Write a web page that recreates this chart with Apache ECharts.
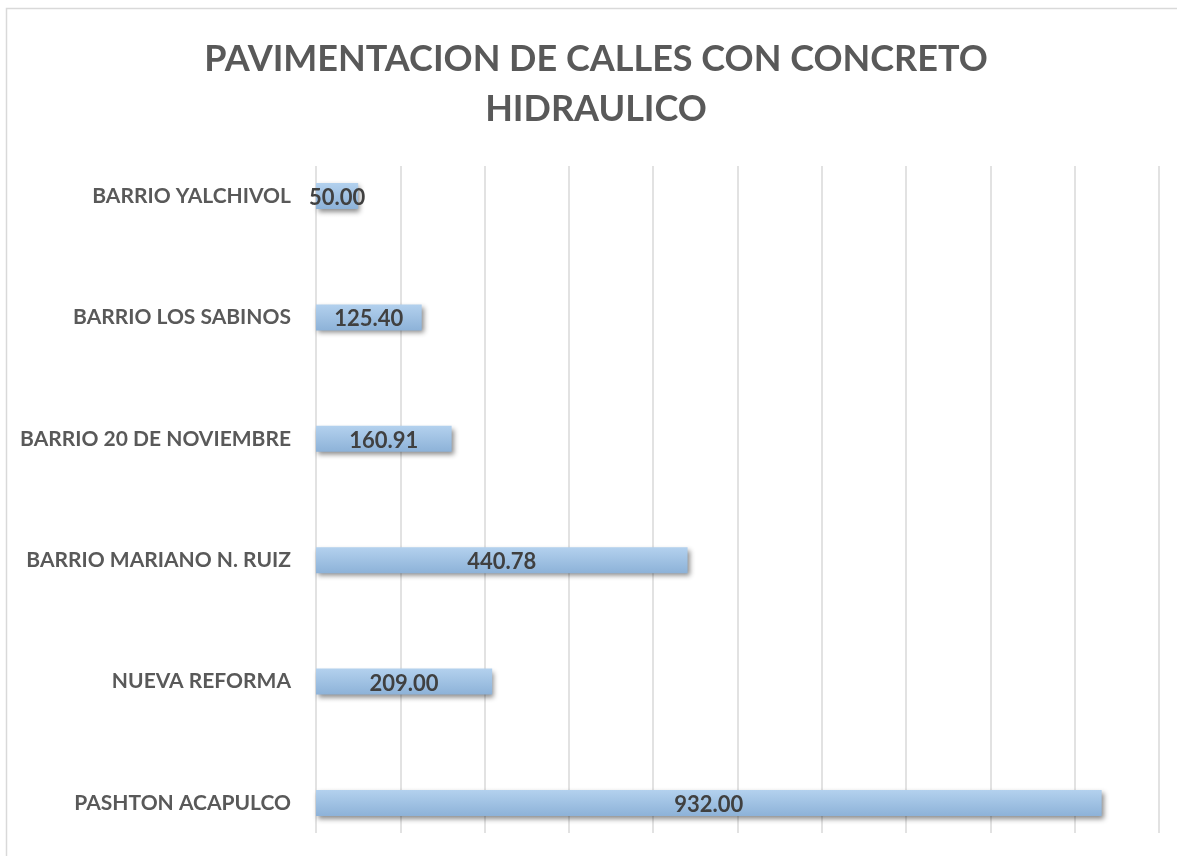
<!DOCTYPE html>
<html style="height: 100%">
<head>
<meta charset="utf-8">
</head>
<body style="height: 100%; margin: 0; background: #fff">
<div id="container" style="width: 1177px; height: 856px"></div>
<script type="text/javascript" src="https://cdn.jsdelivr.net/npm/echarts@6/dist/echarts.min.js"></script>
<script type="text/javascript">
var categories = ['BARRIO YALCHIVOL', 'BARRIO LOS SABINOS', 'BARRIO 20 DE NOVIEMBRE',
    'BARRIO MARIANO N. RUIZ', 'NUEVA REFORMA', 'PASHTON ACAPULCO'];
var values = [50.00, 125.40, 160.91, 440.78, 209.00, 932.00];
var axisMax = 1000;
var axisStep = 100;

var chart = echarts.init(document.getElementById('container'));
var font = 'Lato';

var option = {
    backgroundColor: '#fff',
    title: {
        text: 'PAVIMENTACION DE CALLES CON CONCRETO\nHIDRAULICO',
        left: 591,
        textAlign: 'center',
        top: 29,
        textStyle: {
            fontFamily: font,
            fontSize: 36,
            fontWeight: 'bold',
            color: '#595959',
            lineHeight: 50
        }
    },
    graphic: [{
        type: 'rect',
        shape: { x: 6.5, y: 8.5, width: 1300, height: 1000 },
        style: { fill: 'none', stroke: '#d9d9d9', lineWidth: 1.5 },
        silent: true
    }],
    grid: [
        // grid for the gridlines
        { left: 316, right: 18, top: 166, bottom: 23 },
        // grid for the bars
        { left: 316, right: 18, top: 196, bottom: 53 }
    ],
    xAxis: [{
        gridIndex: 0,
        type: 'value',
        min: 0,
        max: axisMax,
        interval: axisStep,
        axisLine: { show: false },
        axisTick: { show: false },
        axisLabel: { show: false },
        splitLine: { show: true, lineStyle: { color: '#d9d9d9', width: 1.5 } }
    }, {
        gridIndex: 1,
        type: 'value',
        min: 0,
        max: axisMax,
        interval: axisStep,
        show: false,
        splitLine: { show: false }
    }],
    yAxis: [{
        gridIndex: 0,
        type: 'category',
        data: categories,
        show: false
    }, {
        gridIndex: 1,
        type: 'category',
        data: categories,
        inverse: true,
        boundaryGap: false,
        axisLine: { show: false },
        axisTick: { show: false },
        splitLine: { show: false },
        axisLabel: {
            margin: 25,
            fontFamily: font,
            fontSize: 21,
            fontWeight: 'bold',
            color: '#595959'
        }
    }],
    series: [{
        type: 'bar',
        xAxisIndex: 1,
        yAxisIndex: 1,
        data: values,
        barWidth: 26,
        itemStyle: {
            color: new echarts.graphic.LinearGradient(0, 0, 0, 1, [
                { offset: 0, color: '#b3d1ee' },
                { offset: 1, color: '#8db2d8' }
            ]),
            shadowColor: 'rgba(0,0,0,0.45)',
            shadowBlur: 5,
            shadowOffsetX: 2,
            shadowOffsetY: 3
        },
        label: {
            show: true,
            position: 'inside',
            offset: [0, 2],
            formatter: function (p) { return p.value.toFixed(2); },
            fontFamily: font,
            fontSize: 22,
            fontWeight: 'bold',
            color: '#404040'
        }
    }]
};

chart.setOption(option);
</script>
</body>
</html>
